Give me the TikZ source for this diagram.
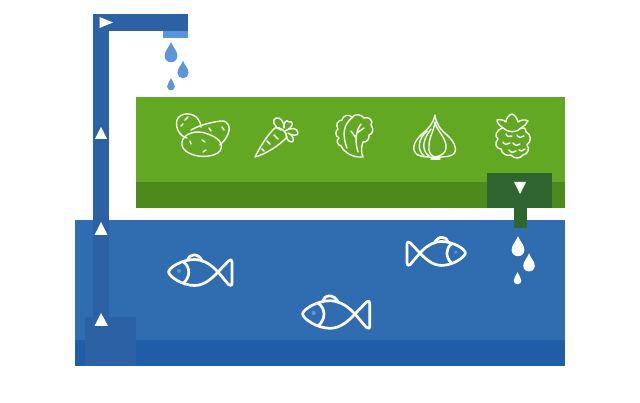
\documentclass[tikz,border=0pt]{standalone}
\definecolor{gMain}{HTML}{63A823}
\definecolor{gDark}{HTML}{4B8A1B}
\definecolor{gBox}{HTML}{2F662F}
\definecolor{bMain}{HTML}{2F6DB0}
\definecolor{bDark}{HTML}{1F5DA6}
\definecolor{bPipe}{HTML}{2A62A5}
\definecolor{bTop}{HTML}{2A62A3}
\definecolor{bNozzle}{HTML}{5B97D8}
\definecolor{bEye}{HTML}{5B97D8}
\tikzset{
  x=1pt,y=-1pt,
  veg/.style={draw=white!92!gMain,line width=1.45pt,line cap=round,line join=round,fill=none},
  fishline/.style={draw=white,line width=2.7pt,line cap=round,line join=round,fill=none},
  arrowmark/.style={fill=white,draw=none},
  pics/drop/.style={code={
    \fill[#1] (0,-13) .. controls (1.5,-8) and (6.4,-4.5) .. (6.4,1)
      .. controls (6.4,4.6) and (3.5,7.2) .. (0,7.2)
      .. controls (-3.5,7.2) and (-6.4,4.6) .. (-6.4,1)
      .. controls (-6.4,-4.5) and (-1.5,-8) .. (0,-13) -- cycle;
  }},
  pics/fish/.style={code={
    % nose at origin, fish pointing left
    \draw[fishline] (0,0) .. controls (1,-5) and (14,-12.5) .. (26,-12.5)
      .. controls (36,-12.5) and (44,-6) .. (49.5,0)
      .. controls (44,6) and (36,13.5) .. (26,13.5)
      .. controls (14,13.5) and (1,5) .. (0,0) -- cycle;
    \draw[fishline] (49.5,0) -- (60,-11) .. controls (62.5,-13) and (63.5,-12) .. (63.5,-10)
      -- (63.5,11) .. controls (63.5,14) and (62,14) .. (60,12.5) -- cycle;
    \draw[fishline] (15,-10) .. controls (22,-5) and (22,5) .. (15,11);
    \draw[fishline] (19,-12) .. controls (20,-18) and (30,-20) .. (34,-10.5);
    \fill[bEye] (10.5,-1) circle (2);
  }}
}
\begin{document}
\begin{tikzpicture}
\useasboundingbox (0,0) rectangle (640,403);
\fill[white] (0,0) rectangle (640,403);
% green bed
\fill[gMain] (136,97) rectangle (565,208);
\fill[gDark] (136,182) rectangle (565,208);
% blue tank
\fill[bMain] (75,220) rectangle (565,366);
\fill[bDark] (75,340) rectangle (565,366);
% pipe
\fill[bTop] (93,14) rectangle (188,31);
\fill[bTop] (93,14) rectangle (109,220);
\fill[bPipe] (93,220) rectangle (109,320);
\fill[bPipe] (85,317) rectangle (136,366);
\fill[bNozzle] (163,31) rectangle (188,38);
% drain
\fill[gBox] (487,173) rectangle (552,208);
\fill[gBox] (514,208) rectangle (527,228);
% arrows
\fill[arrowmark] (99.5,17) -- (113,22.5) -- (99.5,28) -- cycle;
\fill[arrowmark] (101,127) -- (107,139) -- (95,139) -- cycle;
\fill[arrowmark] (101,222) -- (107.5,235) -- (94.5,235) -- cycle;
\fill[arrowmark] (101,313) -- (108,326) -- (94.5,326) -- cycle;
\fill[arrowmark] (514,182) -- (526,182) -- (520,194) -- cycle;
% drops, tap
\pic at (171,55) {drop=bNozzle};
\pic[scale=0.87] at (183,72) {drop=bNozzle};
\pic[scale=0.6] at (171,86) {drop=bNozzle};
% drops, drain
\pic at (518,249) {drop=white};
\pic[scale=0.9] at (529,265) {drop=white};
\pic[scale=0.6] at (517.5,280) {drop=white};
% fish
\pic at (168.5,272) {fish};
\pic[scale=1.06] at (302.5,314) {fish};
\pic[xscale=-0.92,yscale=0.92] at (465.5,253) {fish};
% potatoes
\draw[veg] (187,138) .. controls (179,136) and (175,127) .. (177,120)
  .. controls (180,112) and (193,112) .. (198,119) .. controls (200,122) and (201,125) .. (201,127);
\draw[veg] (191,130) .. controls (200,125) and (212,122) .. (221,121)
  .. controls (229,120) and (231,129) .. (228,134) .. controls (226,139) and (223,142) .. (220,145);
\draw[veg] (182,142) .. controls (183,134) and (196,129) .. (208,134)
  .. controls (219,138) and (224,144) .. (220,151)
  .. controls (215,157) and (200,158) .. (191,154)
  .. controls (184,151) and (181,147) .. (182,142) -- cycle;
\draw[veg] (185,120) -- (188,117) (181,126) -- (183,124) (209,128) -- (211,131) (222,127) -- (224,130)
  (190,141) -- (191,144) (202,140) -- (205,142) (206,150) -- (203,152);
% carrot
\draw[veg] (255,157) .. controls (260,147) and (268,134) .. (275,128)
  .. controls (280,126) and (287,132) .. (287,137)
  .. controls (280,145) and (266,154) .. (255,157) -- cycle;
\draw[veg] (267,141) -- (270,144) (274,135) -- (278,139) (262,149) -- (264,151);
\draw[veg] (281,130) .. controls (274,127) and (271,120) .. (276,118)
  .. controls (281,117) and (284,122) .. (284,128)
  .. controls (284,122) and (286,119) .. (289,122)
  .. controls (292,120) and (294,125) .. (290,128) .. controls (289,129) and (287,130) .. (285,131)
  .. controls (291,127) and (298,128) .. (298,133)
  .. controls (298,136) and (292,136) .. (288,133)
  .. controls (293,135) and (295,141) .. (292,142)
  .. controls (288,142) and (286,138) .. (286,134);
% lettuce
\draw[veg] (358,157) .. controls (350,156) and (343,151) .. (341,146)
  .. controls (337,145) and (336,140) .. (339,138)
  .. controls (335,136) and (335,131) .. (338,129)
  .. controls (335,125) and (338,120) .. (342,120)
  .. controls (343,115) and (349,114) .. (352,117)
  .. controls (356,113) and (362,115) .. (364,118)
  .. controls (369,116) and (374,121) .. (371,125)
  .. controls (374,129) and (373,134) .. (369,135)
  .. controls (370,139) and (366,143) .. (363,142)
  .. controls (361,147) and (361,153) .. (363,157) -- (358,157);
\draw[veg] (347,148) .. controls (343,138) and (343,128) .. (348,122) .. controls (350,119) and (352,118) .. (353,117);
\draw[veg] (358,152) .. controls (355,142) and (355,132) .. (361,124)
  (356,138) -- (351,131) (357,133) -- (364,128);
% garlic
\draw[veg] (435,115) .. controls (436,124) and (440,129) .. (447,135)
  .. controls (456,143) and (458,152) .. (452,155)
  .. controls (445,158) and (441,156) .. (435,158)
  .. controls (429,156) and (424,158) .. (418,155)
  .. controls (411,151) and (413,142) .. (422,134)
  .. controls (429,128) and (433,124) .. (435,115) -- cycle;
\draw[veg] (435,122) .. controls (436,130) and (447,138) .. (446,148)
  .. controls (446,153) and (441,156) .. (435,157)
  .. controls (431,156) and (428,152) .. (429,146)
  .. controls (429,137) and (434,131) .. (435,122);
\draw[veg] (427,131) .. controls (419,138) and (416,149) .. (424,156);
\draw[veg] (431,129) .. controls (424,138) and (420,149) .. (429,156);
\draw[veg] (431,159) -- (440,159);
% raspberry
\draw[veg] (503,128) .. controls (496,130) and (494,136) .. (498,139)
  .. controls (494,143) and (496,149) .. (501,149)
  .. controls (502,155) and (508,156) .. (511,155)
  .. controls (514,159) and (520,159) .. (523,155)
  .. controls (528,154) and (530,149) .. (527,145)
  .. controls (532,141) and (531,134) .. (526,132)
  .. controls (526,128) and (523,127) .. (521,128);
\draw[veg] (503,128) .. controls (508,133) and (517,133) .. (521,128);
\draw[veg] (503,128) .. controls (500,126) and (497,123) .. (497,120) .. controls (500,119) and (504,120) .. (506,122)
  .. controls (506,118) and (509,115) .. (512,114)
  .. controls (515,115) and (517,118) .. (518,122)
  .. controls (521,120) and (525,119) .. (528,121) .. controls (527,124) and (524,126) .. (521,128);
\draw[veg] (506,134) .. controls (507,137) and (510,137) .. (512,136)
  (517,135) .. controls (518,138) and (522,138) .. (524,136)
  (503,142) .. controls (504,145) and (508,145) .. (510,143)
  (513,143) .. controls (515,146) and (518,146) .. (520,144)
  (509,150) .. controls (511,153) and (514,153) .. (516,151)
  (519,150) .. controls (520,152) and (523,151) .. (525,149);
\end{tikzpicture}
\end{document}
